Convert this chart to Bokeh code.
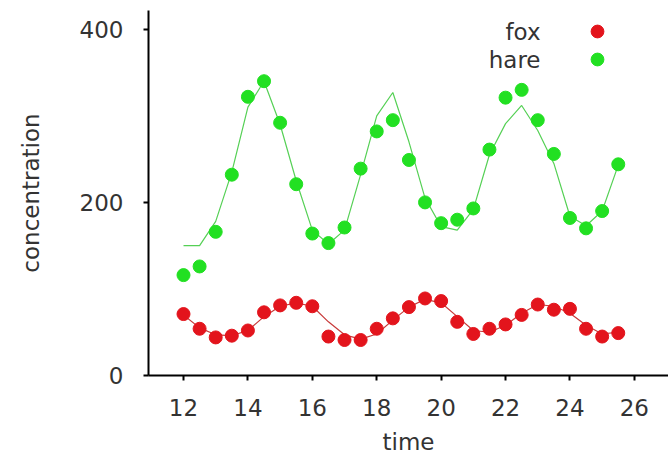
from bokeh.plotting import figure
from bokeh.models import Range1d, Legend, LegendItem, Label, FixedTicker
from bokeh.embed import file_html
from bokeh.resources import INLINE

# ---- data ----
time = [12, 12.5, 13, 13.5, 14, 14.5, 15, 15.5, 16, 16.5, 17, 17.5, 18, 18.5,
        19, 19.5, 20, 20.5, 21, 21.5, 22, 22.5, 23, 23.5, 24, 24.5, 25, 25.5]
fox = [71, 54, 44, 46, 52, 73, 81, 84, 80, 45, 41, 41, 54, 66,
       79, 89, 86, 62, 48, 54, 59, 70, 82, 76, 77, 54, 45, 49]
hare = [116, 126, 166, 232, 322, 340, 292, 221, 164, 153, 171, 239, 282, 295,
        249, 200, 176, 180, 193, 261, 321, 330, 295, 256, 182, 170, 190, 244]
fox_model = [70, 55, 47, 46, 52, 68, 80, 84, 80, 62, 47, 42, 48, 64,
             79, 88, 84, 68, 52, 50, 58, 72, 82, 80, 72, 58, 48, 50]
hare_model = [150, 150, 178, 235, 310, 340, 290, 225, 168, 152, 168, 232, 300, 327,
              270, 205, 172, 168, 192, 255, 291, 312, 283, 245, 184, 173, 190, 243]
x_ticks = [12, 14, 16, 18, 20, 22, 24, 26]
y_ticks = [0, 200, 400]
series_names = ["fox", "hare"]

FOX_C = "#e3141c"
HARE_C = "#22e022"
FONT = "DejaVu Sans"
TXT = "#333333"
FS = "23px"

p = figure(width=668, height=458, output_backend="svg", toolbar_location=None,
           x_range=Range1d(10.913, 27.06), y_range=Range1d(0, 421.7),
           min_border_left=148, min_border_right=0, min_border_top=10,
           min_border_bottom=83)
p.outline_line_color = None
p.xgrid.visible = False
p.ygrid.visible = False
p.background_fill_color = "white"
p.border_fill_color = "white"

p.line(time, hare_model, line_color="#55d055", line_width=1.2)
p.line(time, fox_model, line_color="#c83a3a", line_width=1.2)
r_fox = p.scatter(time, fox, size=13, fill_color=FOX_C, line_color=FOX_C)
r_hare = p.scatter(time, hare, size=13, fill_color=HARE_C, line_color=HARE_C)

for ax in (p.xaxis[0], p.yaxis[0]):
    ax.axis_line_color = "black"
    ax.axis_line_width = 2
    ax.major_tick_line_color = "black"
    ax.major_tick_line_width = 2
    ax.major_tick_out = 5
    ax.major_tick_in = 0
    ax.minor_tick_line_color = None
    ax.major_label_text_font = FONT
    ax.major_label_text_font_size = FS
    ax.major_label_text_color = TXT
    ax.axis_label_text_font = FONT
    ax.axis_label_text_font_size = FS
    ax.axis_label_text_color = TXT
    ax.axis_label_text_font_style = "normal"

p.xaxis.ticker = FixedTicker(ticks=x_ticks)
p.yaxis.ticker = FixedTicker(ticks=y_ticks)
p.xaxis.axis_label = "time"
p.yaxis.axis_label = "concentration"
p.xaxis.major_label_standoff = 18
p.yaxis.major_label_standoff = 20
p.xaxis.axis_label_standoff = 10
p.yaxis.axis_label_standoff = 33

for r, loc in zip([r_fox, r_hare], [(433, 328), (433, 300)]):
    lg = Legend(items=[LegendItem(label=" ", renderers=[r])],
                location=loc, orientation="vertical",
                glyph_width=32, glyph_height=32, spacing=0,
                label_width=0, label_height=20, label_standoff=0,
                label_text_font_size="1px", padding=0, margin=0,
                border_line_color=None, background_fill_alpha=0)
    p.add_layout(lg)

for name, yy in zip(series_names, [344, 316]):
    p.add_layout(Label(x=392, y=yy, x_units="screen", y_units="screen", text=name,
                       text_align="right", text_baseline="middle",
                       text_font=FONT, text_font_size=FS, text_color=TXT))

open("out.html", "w").write(file_html(p, INLINE))
